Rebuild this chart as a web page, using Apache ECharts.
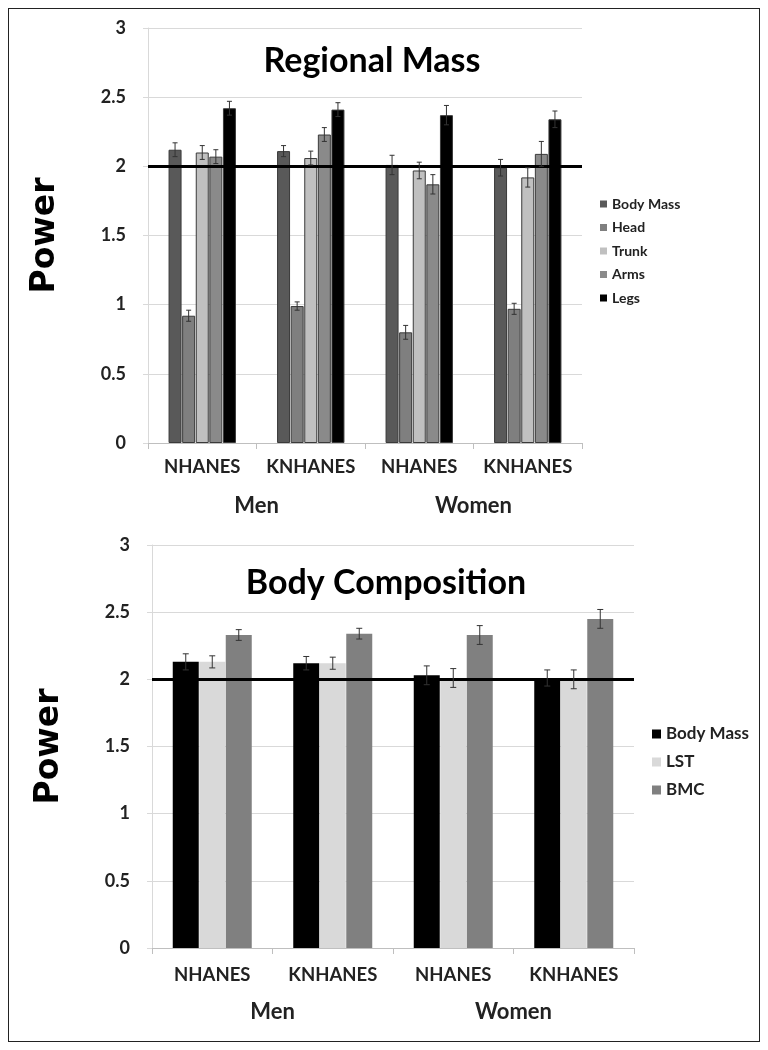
<!DOCTYPE html>
<html lang="en">
  <head>
    <meta charset="UTF-8" />
    <title>Regional mass / body composition power</title>
    <script src="https://cdn.jsdelivr.net/npm/echarts@6/dist/echarts.min.js"></script>
    <style>
      body { margin: 0; background: #fff; }
      .page { position: relative; width: 768px; height: 1050px; }
      .frame { position: absolute; left: 8px; top: 8px; width: 750px; height: 1032px; border: 1.5px solid #222; }
      .chart { position: absolute; left: 0; width: 768px; height: 525px; }
    </style>
  </head>
  <body>
    <div class="page">
      <div class="frame"></div>
      <div id="regional" class="chart" style="top: 0"></div>
      <div id="composition" class="chart" style="top: 525px"></div>
    </div>
    <script>
      // shared axis data
      var cohortLabels = ['NHANES', 'KNHANES', 'NHANES', 'KNHANES'];
      var sexLabels = ['Men', 'Women'];
      var yTicks = [0, 0.5, 1, 1.5, 2, 2.5, 3];

      // Regional Mass (Men NHANES, Men KNHANES, Women NHANES, Women KNHANES)
      var regionNames = ['Body Mass', 'Head', 'Trunk', 'Arms', 'Legs'];
      var regionBodyMass = [2.12, 2.11, 2.01, 1.99];
      var regionHead = [0.92, 0.99, 0.80, 0.97];
      var regionTrunk = [2.10, 2.06, 1.97, 1.92];
      var regionArms = [2.07, 2.23, 1.87, 2.09];
      var regionLegs = [2.42, 2.41, 2.37, 2.34];
      var regionBodyMassErr = [0.05, 0.04, 0.07, 0.06];
      var regionHeadErr = [0.04, 0.03, 0.05, 0.04];
      var regionTrunkErr = [0.05, 0.05, 0.06, 0.07];
      var regionArmsErr = [0.05, 0.05, 0.07, 0.09];
      var regionLegsErr = [0.05, 0.05, 0.07, 0.06];

      // Body Composition
      var compNames = ['Body Mass', 'LST', 'BMC'];
      var compBodyMass = [2.13, 2.12, 2.03, 2.01];
      var compLST = [2.13, 2.12, 2.01, 2.00];
      var compBMC = [2.33, 2.34, 2.33, 2.45];
      var compBodyMassErr = [0.06, 0.05, 0.07, 0.06];
      var compLSTErr = [0.045, 0.045, 0.07, 0.07];
      var compBMCErr = [0.04, 0.04, 0.07, 0.07];

      var labelFont = "Lato, 'Open Sans', sans-serif";

      function makeChart(el, cfg) {
        var chart = echarts.init(document.getElementById(el));
        var n = cfg.values.length;
        var totalW = n * cfg.barWidth + (n - 1) * cfg.gapPx;

        var series = [];
        var errData = [];
        for (var k = 0; k < n; k += 1) {
          series.push({
            name: cfg.names[k],
            type: 'bar',
            barWidth: cfg.barWidth,
            barGap: (cfg.gapPx / cfg.barWidth) * 100 + '%',
            itemStyle: {
              color: cfg.colors[k],
              borderColor: cfg.borderColor,
              borderWidth: cfg.borderColor ? 1 : 0
            },
            z: 2,
            data: cfg.values[k]
          });
          for (var i = 0; i < cfg.values[k].length; i += 1) {
            var v = cfg.values[k][i];
            var e = cfg.errors[k][i];
            errData.push([i, v - e, v + e, k]);
          }
        }

        // reference line at 2
        series.push({
          type: 'line',
          data: [],
          z: 5,
          markLine: {
            silent: true,
            symbol: 'none',
            label: { show: false },
            lineStyle: { color: '#000', width: 3, type: 'solid' },
            data: [{ yAxis: 2 }]
          }
        });

        series.push({
          type: 'custom',
          z: 6,
          silent: true,
          data: errData,
          renderItem: function (params, api) {
            var lo = api.coord([api.value(0), api.value(1)]);
            var hi = api.coord([api.value(0), api.value(2)]);
            var k = api.value(3);
            var x = lo[0] - totalW / 2 + k * (cfg.barWidth + cfg.gapPx) + cfg.barWidth / 2;
            var cap = cfg.capW / 2;
            var st = { stroke: '#333', lineWidth: 1 };
            return {
              type: 'group',
              children: [
                { type: 'line', shape: { x1: x, y1: lo[1], x2: x, y2: hi[1] }, style: st },
                { type: 'line', shape: { x1: x - cap, y1: hi[1], x2: x + cap, y2: hi[1] }, style: st },
                { type: 'line', shape: { x1: x - cap, y1: lo[1], x2: x + cap, y2: lo[1] }, style: st }
              ]
            };
          }
        });

        var option = {
          animation: false,
          title: {
            text: cfg.title,
            left: cfg.titleX - 15,
            top: cfg.titleTop,
            textAlign: 'center',
            backgroundColor: '#fff',
            padding: [2, 15, 10, 15],
            textStyle: { fontFamily: labelFont, fontWeight: 'bold', fontSize: cfg.titleFont, color: '#000' }
          },
          legend: {
            orient: 'vertical',
            left: cfg.legendLeft,
            top: cfg.legendTop,
            icon: 'rect',
            itemWidth: cfg.legendIcon,
            itemHeight: cfg.legendIcon,
            itemGap: cfg.legendGap,
            selectedMode: false,
            itemStyle: { borderWidth: 0 },
            data: cfg.names,
            textStyle: {
              fontFamily: labelFont,
              fontWeight: 'bold',
              fontSize: cfg.legendFont,
              lineHeight: cfg.legendLine,
              color: '#222'
            }
          },
          grid: {
            left: cfg.gridLeft,
            width: cfg.gridWidth,
            top: cfg.gridTop,
            height: cfg.gridHeight
          },
          xAxis: [
            {
              type: 'category',
              data: cohortLabels,
              axisLine: { lineStyle: { color: '#bfbfbf' } },
              axisTick: { show: true, length: 6, lineStyle: { color: '#bfbfbf' } },
              axisLabel: {
                interval: 0,
                margin: cfg.catMargin,
                fontFamily: labelFont,
                fontWeight: 'bold',
                fontSize: 18.5,
                color: '#222'
              }
            },
            {
              type: 'category',
              data: sexLabels,
              position: 'bottom',
              offset: cfg.sexOffset,
              axisLine: { show: false },
              axisTick: { show: false },
              axisLabel: { margin: 0, fontFamily: labelFont, fontWeight: 'bold', fontSize: 22, color: '#222' }
            }
          ],
          yAxis: {
            type: 'value',
            min: yTicks[0],
            max: yTicks[yTicks.length - 1],
            interval: 0.5,
            name: 'Power',
            nameLocation: 'middle',
            nameRotate: 90,
            nameGap: 86,
            nameTextStyle: { fontFamily: 'DejaVu Sans', fontWeight: 'bold', fontSize: 33, color: '#000' },
            axisLine: { show: true, lineStyle: { color: '#d9d9d9' } },
            axisTick: { show: true, length: 5, lineStyle: { color: '#d9d9d9' } },
            splitLine: { lineStyle: { color: '#d9d9d9' } },
            axisLabel: { margin: 22, fontFamily: labelFont, fontWeight: 'bold', fontSize: 18, color: '#222' }
          },
          series: series
        };
        chart.setOption(option);
      }

      makeChart('regional', {
        title: 'Regional Mass',
        titleX: 372,
        titleTop: 42,
        titleFont: 34,
        names: regionNames,
        values: [regionBodyMass, regionHead, regionTrunk, regionArms, regionLegs],
        errors: [regionBodyMassErr, regionHeadErr, regionTrunkErr, regionArmsErr, regionLegsErr],
        colors: ['#595959', '#7f7f7f', '#c0c0c0', '#8a8a8a', '#000000'],
        borderColor: '#3a3a3a',
        barWidth: 13,
        gapPx: 0.6,
        capW: 5,
        gridLeft: 148,
        gridWidth: 434,
        gridTop: 28,
        gridHeight: 415,
        catMargin: 15,
        sexOffset: 52,
        legendLeft: 595,
        legendTop: 191,
        legendIcon: 7,
        legendGap: 7.5,
        legendFont: 14,
        legendLine: 16
      });

      makeChart('composition', {
        title: 'Body Composition',
        titleX: 386,
        titleTop: 39,
        titleFont: 34,
        names: compNames,
        values: [compBodyMass, compLST, compBMC],
        errors: [compBodyMassErr, compLSTErr, compBMCErr],
        colors: ['#000000', '#d9d9d9', '#808080'],
        borderColor: null,
        barWidth: 26,
        gapPx: 0.5,
        capW: 6,
        gridLeft: 152,
        gridWidth: 482,
        gridTop: 20,
        gridHeight: 403,
        catMargin: 18,
        sexOffset: 53,
        legendLeft: 647,
        legendTop: 194,
        legendIcon: 9,
        legendGap: 8,
        legendFont: 17,
        legendLine: 20
      });
    </script>
  </body>
</html>
